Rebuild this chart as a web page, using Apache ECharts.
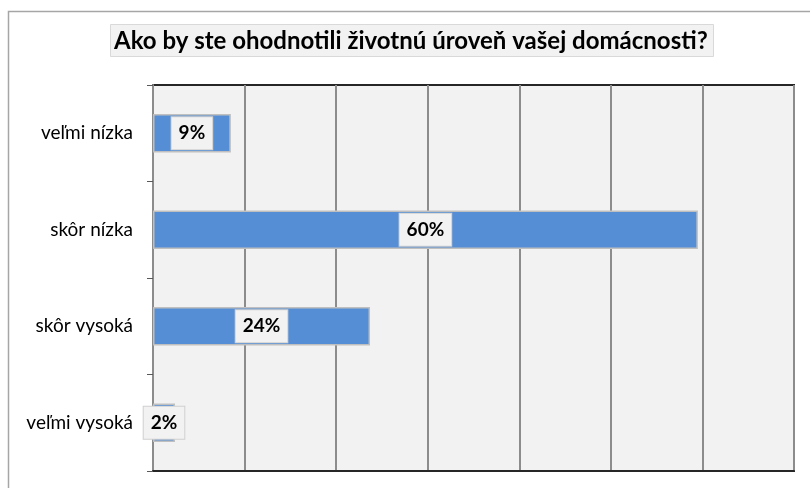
<!DOCTYPE html>
<html>
<head>
<meta charset="utf-8">
<script src="https://cdn.jsdelivr.net/npm/echarts@6/dist/echarts.min.js"></script>
<style>
  html, body { margin: 0; padding: 0; background: #fff; }
  #chart { width: 810px; height: 488px; }
</style>
</head>
<body>
<div id="chart"></div>
<script>
// hodnoty odčítané z grafu (v %)
var categories = ['veľmi nízka', 'skôr nízka', 'skôr vysoká', 'veľmi vysoká'];
var values = [8.5, 59.5, 23.7, 2.4];
var titleText = 'Ako by ste ohodnotili životnú úroveň vašej domácnosti?';

var chart = echarts.init(document.getElementById('chart'));

var option = {
  backgroundColor: '#fff',
  animation: false,
  title: {
    text: titleText,
    left: 110,
    top: 24,
    padding: [5, 6, 4, 4],
    backgroundColor: '#f2f2f2',
    borderColor: '#d9d9d9',
    borderWidth: 1,
    textStyle: {
      fontFamily: 'Lato',
      fontWeight: 'bold',
      fontSize: 24,
      color: '#000'
    }
  },
  graphic: [{
    type: 'rect',
    shape: { x: 8.5, y: 11.5, width: 900, height: 600 },
    style: { fill: 'none', stroke: '#a6a6a6', lineWidth: 1.5 },
    silent: true
  }],
  grid: {
    left: 153,
    right: 16,
    top: 85,
    bottom: 17,
    show: true,
    backgroundColor: '#f2f2f2',
    borderColor: '#262626',
    borderWidth: 2
  },
  xAxis: {
    type: 'value',
    min: 0,
    max: 70,
    interval: 10,
    axisLabel: { show: false },
    axisTick: { show: false },
    axisLine: { show: true, lineStyle: { color: '#262626', width: 2 } },
    splitLine: { show: true, lineStyle: { color: '#8c8c8c', width: 2 } }
  },
  yAxis: {
    type: 'category',
    data: categories,
    inverse: true,
    axisLine: { show: true, lineStyle: { color: '#8c8c8c', width: 2 } },
    axisTick: { show: true, length: 6, lineStyle: { color: '#595959', width: 1 } },
    axisLabel: {
      margin: 20,
      fontFamily: 'Lato',
      fontSize: 19,
      color: '#000'
    }
  },
  series: [{
    type: 'bar',
    data: values,
    barWidth: '40%',
    itemStyle: {
      color: '#558ed5',
      borderColor: '#bfbfbf',
      borderWidth: 1.5
    },
    label: {
      show: true,
      position: 'inside',
      formatter: function (p) { return Math.round(p.value) + '%'; },
      fontFamily: 'Lato',
      fontWeight: 'bold',
      fontSize: 19,
      color: '#000',
      backgroundColor: '#f2f2f2',
      borderColor: '#d0d0d0',
      borderWidth: 1,
      padding: [7, 7, 6, 7]
    }
  }]
};

chart.setOption(option);
</script>
</body>
</html>
